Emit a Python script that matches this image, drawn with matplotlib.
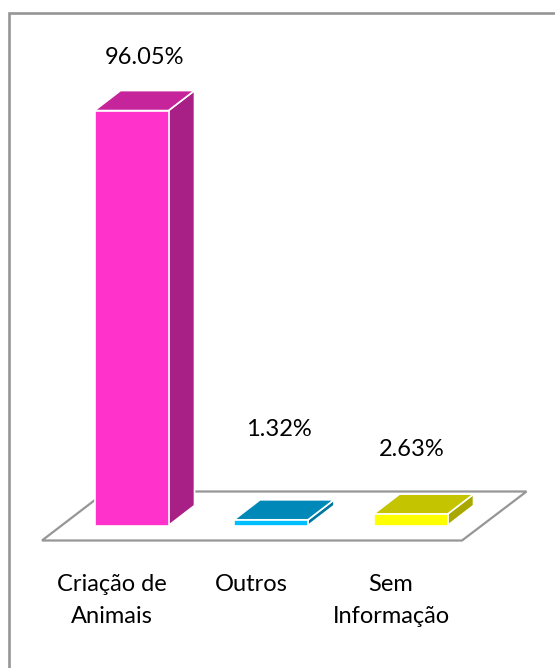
import matplotlib
matplotlib.use("Agg")
import matplotlib.pyplot as plt
from matplotlib.patches import Polygon

categories = ["Criação de\nAnimais", "Outros", "Sem\nInformação"]
values = [96.05, 1.32, 2.63]
value_labels = ["96.05%", "1.32%", "2.63%"]

front_colors = ["#FF33CC", "#00BFFF", "#FFFF00"]
top_colors = ["#C5249B", "#0088B8", "#C4C400"]
side_colors = ["#A81F85", "#0076A0", "#A8A800"]

W, H = 555, 668
PX_X = 139.5      # pixels per category
PX_Y = 4.32       # pixels per percent
X0 = 131.5        # first category centre
Y0 = 525.5        # baseline
GRAY = "#969696"

plt.rcParams["font.family"] = ["Lato", "DejaVu Sans"]

fig = plt.figure(figsize=(W / 100, H / 100), dpi=100)
ax = fig.add_axes([0, 0, 1, 1])
ax.set_xlim(-X0 / PX_X, (W - X0) / PX_X)
ax.set_ylim(-(H - Y0) / PX_Y, Y0 / PX_Y)
ax.axis("off")

half = 37 / PX_X
dx = 26 / PX_X
dy = 20 / PX_Y


def px(x, y):
    return (x - X0) / PX_X, (Y0 - y) / PX_Y


# outer frame runs off the bottom and right edge
ax.plot(*zip(px(8.7, 668), px(8.7, 13), px(555, 13)), color=GRAY, lw=1.9, zorder=1,
        solid_joinstyle="miter")

# floor
floor = [px(42, 540.5), px(462, 540.5), px(526.5, 491.5), px(106, 491.5)]
ax.add_patch(Polygon(floor, closed=True, fc="white", ec=GRAY, lw=1.6, zorder=2))

for i, v in enumerate(values):
    l, r = i - half, i + half
    front = [(l, 0), (r, 0), (r, v), (l, v)]
    top = [(l, v), (r, v), (r + dx, v + dy), (l + dx, v + dy)]
    side = [(r, 0), (r + dx, dy), (r + dx, v + dy), (r, v)]
    ax.add_patch(Polygon(side, closed=True, fc=side_colors[i], ec="white", lw=1.2, zorder=3))
    ax.add_patch(Polygon(top, closed=True, fc=top_colors[i], ec="white", lw=1.2, zorder=3))
    ax.add_patch(Polygon(front, closed=True, fc=front_colors[i], ec="white", lw=1.2, zorder=4))

label_px = [(144, 57), (279, 430), (412, 450)]
for (xp, yp), s in zip(label_px, value_labels):
    x, y = px(xp, yp)
    ax.text(x, y, s, ha="center", va="center", fontsize=17, color="black", zorder=5)

cat_px = [(112, 574), (251, 574), (391, 574)]
for (xp, yp), s in zip(cat_px, categories):
    x, y = px(xp, yp)
    ax.text(x, y, s, ha="center", va="top", fontsize=17, color="black",
            linespacing=1.66, zorder=5)

fig.savefig("out.png", dpi=100)
